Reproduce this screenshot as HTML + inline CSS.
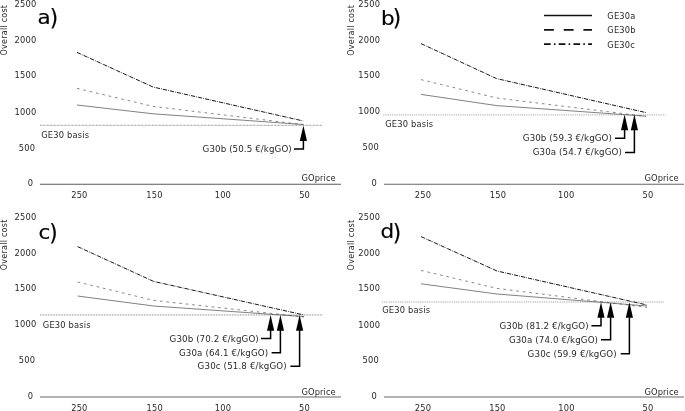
<!DOCTYPE html>
<html><head><meta charset="utf-8"><title>Overall cost vs GO price</title>
<style>
html,body{margin:0;padding:0;background:#fff;}
svg{display:block}
text{font-family:"DejaVu Sans","Liberation Sans",sans-serif;fill:#2a2a2a;letter-spacing:0.18px;}
.big{font-size:21.5px;fill:#000;stroke:#000;stroke-width:0.2px;letter-spacing:0;}
</style></head><body>
<svg width="685" height="411" viewBox="0 0 685 411">
<rect width="685" height="411" fill="#fff"/>
<text class="big" transform="translate(37.4,24.3) scale(1,0.94)">a</text>
<text class="big" transform="translate(49.7,25.8) scale(1,1.073)">)</text>
<text transform="translate(7.0,55.5) rotate(-90)" font-size="8.0" style="letter-spacing:0.25px">Overall cost</text>
<text x="36.4" y="6.7" font-size="8.3" text-anchor="end" >2500</text>
<text x="36.4" y="42.5" font-size="8.3" text-anchor="end" >2000</text>
<text x="36.4" y="78.1" font-size="8.3" text-anchor="end" >1500</text>
<text x="36.4" y="114.7" font-size="8.3" text-anchor="end" >1000</text>
<text x="35.2" y="150.7" font-size="8.3" text-anchor="end" >500</text>
<text x="33.1" y="186.3" font-size="8.3" text-anchor="end" >0</text>
<line x1="40" y1="184.2" x2="341" y2="184.2" stroke="#5a5a5a" stroke-width="1.05"/>
<text x="79.4" y="197.5" font-size="8.3" text-anchor="middle" >250</text>
<text x="154.5" y="197.5" font-size="8.3" text-anchor="middle" >150</text>
<text x="222.9" y="197.5" font-size="8.3" text-anchor="middle" >100</text>
<text x="304.6" y="197.5" font-size="8.3" text-anchor="middle" >50</text>
<text x="301.6" y="180.9" font-size="8.3" text-anchor="start" style="letter-spacing:0.08px">GOprice</text>
<line x1="40" y1="125.3" x2="322.6" y2="125.3" stroke="#555" stroke-width="0.7" stroke-dasharray="0.8 0.6"/>
<text x="41.2" y="137.5" font-size="8.3" text-anchor="start" >GE30 basis</text>
<polyline points="77,105.0 153,113.8 303.4,124.5" fill="none" stroke="#4a4a4a" stroke-width="0.7"/>
<polyline points="77,88.4 153,106.4 303.4,124.6" fill="none" stroke="#555" stroke-width="0.7" stroke-dasharray="2.7 3.8"/>
<polyline points="77,52.4 153,87 303.4,121" fill="none" stroke="#161616" stroke-width="1.0" stroke-dasharray="4.3 1.1 0.7 1.1"/>
<polygon points="303.4,125.4 299.79999999999995,141.0 307.0,141.0" fill="#000"/>
<polyline points="303.4,140.4 303.4,148.9 294,148.9" fill="none" stroke="#000" stroke-width="1.5"/>
<text x="291.9" y="152.0" font-size="8.7" text-anchor="end" textLength="89.3" lengthAdjust="spacing">G30b (50.5 €/kgGO)</text>
<text class="big" transform="translate(381.0,24.6) scale(1,0.94)">b</text>
<text class="big" transform="translate(392.8,25.8) scale(1,1.073)">)</text>
<text transform="translate(354.2,55.7) rotate(-90)" font-size="8.0" style="letter-spacing:0.25px">Overall cost</text>
<text x="380.2" y="6.7" font-size="8.3" text-anchor="end" >2500</text>
<text x="380.2" y="42.5" font-size="8.3" text-anchor="end" >2000</text>
<text x="380.2" y="78.3" font-size="8.3" text-anchor="end" >1500</text>
<text x="380.2" y="113.9" font-size="8.3" text-anchor="end" >1000</text>
<text x="379" y="150.3" font-size="8.3" text-anchor="end" >500</text>
<text x="376.9" y="186.4" font-size="8.3" text-anchor="end" >0</text>
<line x1="384" y1="184.2" x2="684" y2="184.2" stroke="#666" stroke-width="1.05"/>
<text x="423" y="197.5" font-size="8.3" text-anchor="middle" >250</text>
<text x="498" y="197.5" font-size="8.3" text-anchor="middle" >150</text>
<text x="566.2" y="197.5" font-size="8.3" text-anchor="middle" >100</text>
<text x="648" y="197.5" font-size="8.3" text-anchor="middle" >50</text>
<text x="644.6" y="180.9" font-size="8.3" text-anchor="start" style="letter-spacing:0.08px">GOprice</text>
<line x1="383.3" y1="114.9" x2="665.6" y2="114.9" stroke="#888" stroke-width="0.8" stroke-dasharray="1.1 1.1"/>
<text x="385.2" y="126.5" font-size="8.3" text-anchor="start" >GE30 basis</text>
<polyline points="421,94.4 496.6,105.6 646,116.2" fill="none" stroke="#4a4a4a" stroke-width="0.7"/>
<polyline points="421,79.6 496.6,98 646,116.4" fill="none" stroke="#555" stroke-width="0.7" stroke-dasharray="2.7 3.8"/>
<polyline points="421,43.6 496.6,78.6 646,112.6" fill="none" stroke="#161616" stroke-width="1.0" stroke-dasharray="4.3 1.1 0.7 1.1"/>
<polygon points="624.6,114.6 621.0,130.2 628.2,130.2" fill="#000"/>
<polyline points="624.6,129.6 624.6,138.2 615,138.2" fill="none" stroke="#000" stroke-width="1.5"/>
<text x="612.1" y="141.0" font-size="8.7" text-anchor="end" textLength="89.3" lengthAdjust="spacing">G30b (59.3 €/kgGO)</text>
<polygon points="634.4,114.6 630.8,130.2 638.0,130.2" fill="#000"/>
<polyline points="634.4,129.6 634.4,152.4 625,152.4" fill="none" stroke="#000" stroke-width="1.5"/>
<text x="622.0" y="155.3" font-size="8.7" text-anchor="end" textLength="89.3" lengthAdjust="spacing">G30a (54.7 €/kgGO)</text>
<text class="big" transform="translate(38.5,238.9) scale(1,0.94)">c</text>
<text class="big" transform="translate(49.2,240.7) scale(1,1.073)">)</text>
<text transform="translate(7.1,270.2) rotate(-90)" font-size="8.0" style="letter-spacing:0.25px">Overall cost</text>
<text x="36.4" y="219.5" font-size="8.3" text-anchor="end" >2500</text>
<text x="36.4" y="255.5" font-size="8.3" text-anchor="end" >2000</text>
<text x="36.4" y="291.1" font-size="8.3" text-anchor="end" >1500</text>
<text x="36.4" y="326.7" font-size="8.3" text-anchor="end" >1000</text>
<text x="35.2" y="363.1" font-size="8.3" text-anchor="end" >500</text>
<text x="33.1" y="399.1" font-size="8.3" text-anchor="end" >0</text>
<line x1="40" y1="397" x2="341" y2="397" stroke="#9a9a9a" stroke-width="1.4"/>
<text x="79.4" y="410.5" font-size="8.3" text-anchor="middle" >250</text>
<text x="154.8" y="410.5" font-size="8.3" text-anchor="middle" >150</text>
<text x="223" y="410.5" font-size="8.3" text-anchor="middle" >100</text>
<text x="304.5" y="410.5" font-size="8.3" text-anchor="middle" >50</text>
<text x="301.6" y="394.6" font-size="8.3" text-anchor="start" style="letter-spacing:0.08px">GOprice</text>
<line x1="40" y1="314.95" x2="322.6" y2="314.95" stroke="#888" stroke-width="1.0" stroke-dasharray="0.9 0.7"/>
<text x="42.8" y="327.5" font-size="8.3" text-anchor="start" >GE30 basis</text>
<polyline points="77.6,296 153.6,306 304,316.6" fill="none" stroke="#4a4a4a" stroke-width="0.7"/>
<polyline points="77.6,282 153.6,300.4 304,317" fill="none" stroke="#555" stroke-width="0.7" stroke-dasharray="2.7 3.8"/>
<polyline points="77.6,246.6 153.6,281.4 304,315" fill="none" stroke="#161616" stroke-width="1.0" stroke-dasharray="4.3 1.1 0.7 1.1"/>
<polygon points="270.6,315.1 267.0,330.70000000000005 274.20000000000005,330.70000000000005" fill="#000"/>
<polyline points="270.6,330.1 270.6,338.55 261,338.55" fill="none" stroke="#000" stroke-width="1.5"/>
<text x="258.9" y="341.85" font-size="8.7" text-anchor="end" textLength="89.3" lengthAdjust="spacing">G30b (70.2 €/kgGO)</text>
<polygon points="280.4,315.1 276.79999999999995,330.70000000000005 284.0,330.70000000000005" fill="#000"/>
<polyline points="280.4,330.1 280.4,352.65 271.6,352.65" fill="none" stroke="#000" stroke-width="1.5"/>
<text x="268.3" y="355.95" font-size="8.7" text-anchor="end" textLength="89.3" lengthAdjust="spacing">G30a (64.1 €/kgGO)</text>
<polygon points="299.6,315.1 296.0,330.70000000000005 303.20000000000005,330.70000000000005" fill="#000"/>
<polyline points="299.6,330.1 299.6,366.15 290.4,366.15" fill="none" stroke="#000" stroke-width="1.5"/>
<text x="286.9" y="369.45" font-size="8.7" text-anchor="end" textLength="89.3" lengthAdjust="spacing">G30c (51.8 €/kgGO)</text>
<text class="big" transform="translate(380.6,238.4) scale(1,0.94)">d</text>
<text class="big" transform="translate(392.8,240.8) scale(1,1.073)">)</text>
<text transform="translate(354.3,270.4) rotate(-90)" font-size="8.0" style="letter-spacing:0.25px">Overall cost</text>
<text x="380.2" y="219.5" font-size="8.3" text-anchor="end" >2500</text>
<text x="380.2" y="255.5" font-size="8.3" text-anchor="end" >2000</text>
<text x="380.2" y="291.1" font-size="8.3" text-anchor="end" >1500</text>
<text x="380.2" y="327.5" font-size="8.3" text-anchor="end" >1000</text>
<text x="379" y="363.0" font-size="8.3" text-anchor="end" >500</text>
<text x="376.9" y="399.0" font-size="8.3" text-anchor="end" >0</text>
<line x1="384" y1="397" x2="684" y2="397" stroke="#9a9a9a" stroke-width="1.4"/>
<text x="423" y="410.5" font-size="8.3" text-anchor="middle" >250</text>
<text x="497.4" y="410.5" font-size="8.3" text-anchor="middle" >150</text>
<text x="566.5" y="410.5" font-size="8.3" text-anchor="middle" >100</text>
<text x="648" y="410.5" font-size="8.3" text-anchor="middle" >50</text>
<text x="644.6" y="394.6" font-size="8.3" text-anchor="start" style="letter-spacing:0.08px">GOprice</text>
<line x1="382" y1="302" x2="664.6" y2="302" stroke="#a4a4a4" stroke-width="1.2" stroke-dasharray="1.0 0.8"/>
<text x="382.2" y="313.1" font-size="8.3" text-anchor="start" >GE30 basis</text>
<polyline points="421,283.8 497,294 647,306" fill="none" stroke="#4a4a4a" stroke-width="0.7"/>
<polyline points="421,270.4 497,288.4 647,307.4" fill="none" stroke="#555" stroke-width="0.7" stroke-dasharray="2.7 3.8"/>
<polyline points="421,236.6 497,271 647,305" fill="none" stroke="#161616" stroke-width="1.0" stroke-dasharray="4.3 1.1 0.7 1.1"/>
<polygon points="601,302.2 597.4,317.8 604.6,317.8" fill="#000"/>
<polyline points="601,317.2 601,325.8 591.4,325.8" fill="none" stroke="#000" stroke-width="1.5"/>
<text x="588.8" y="328.8" font-size="8.7" text-anchor="end" textLength="89.3" lengthAdjust="spacing">G30b (81.2 €/kgGO)</text>
<polygon points="610.6,302.2 607.0,317.8 614.2,317.8" fill="#000"/>
<polyline points="610.6,317.2 610.6,339.8 601,339.8" fill="none" stroke="#000" stroke-width="1.5"/>
<text x="598.2" y="342.8" font-size="8.7" text-anchor="end" textLength="89.3" lengthAdjust="spacing">G30a (74.0 €/kgGO)</text>
<polygon points="629.4,302.2 625.8,317.8 633.0,317.8" fill="#000"/>
<polyline points="629.4,317.2 629.4,353.7 620.7,353.7" fill="none" stroke="#000" stroke-width="1.5"/>
<text x="616.9" y="356.8" font-size="8.7" text-anchor="end" textLength="89.3" lengthAdjust="spacing">G30c (59.9 €/kgGO)</text>
<line x1="544" y1="15.5" x2="592" y2="15.5" stroke="#111" stroke-width="1.6"/>
<line x1="544" y1="29.9" x2="592" y2="29.9" stroke="#111" stroke-width="1.6" stroke-dasharray="9.9 9.8"/>
<line x1="544" y1="44.1" x2="592" y2="44.1" stroke="#111" stroke-width="1.6" stroke-dasharray="6.7 3.2 1.6 3.2"/>
<text x="607.3" y="19.1" font-size="8.3" text-anchor="start" >GE30a</text>
<text x="607.3" y="33.4" font-size="8.3" text-anchor="start" >GE30b</text>
<text x="607.3" y="47.6" font-size="8.3" text-anchor="start" >GE30c</text>
</svg>
</body></html>
